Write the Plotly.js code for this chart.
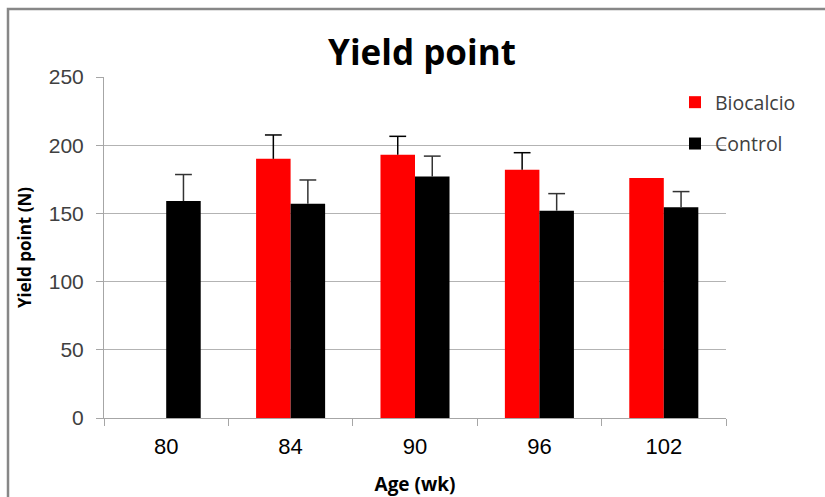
<!DOCTYPE html>
<html>
<head>
<meta charset="utf-8">
<script src="https://cdn.plot.ly/plotly-3.0.1.min.js"></script>
<style>
  html, body { margin: 0; padding: 0; background: #ffffff; }
  #chart { width: 825px; height: 497px; }
</style>
</head>
<body>
<div id="chart"></div>
<script>
// ---- Data ----
const ages = ['80', '84', '90', '96', '102'];
const biocalcio = [null, 190, 193, 182, 176];
const biocalcioErr = [null, 17.5, 13.5, 12.5, null];
const control = [159, 157, 177, 152, 154.5];
const controlErr = [19.5, 17.5, 15, 12.5, 11.5];

const seriesNames = ['Biocalcio', 'Control'];
const chartTitle = 'Yield point';
const xTitle = 'Age (wk)';
const yTitle = 'Yield point (N)';

// upper end of each (one-sided) error bar, from value + error
const topOf = (vals, errs) => vals.map((v, i) => (v === null || errs[i] === null ? null : v + errs[i]));
const nz = arr => arr.map(v => (v === null ? NaN : v));
const zeros = arr => arr.map(() => 0);

function barTrace(name, vals, color, group) {
  return {
    type: 'bar', name: name, x: ages, y: vals,
    offsetgroup: group, legendgroup: group,
    marker: { color: color }
  };
}
// cap marker at the top + stem down to the bar top (one-sided error bar)
function errTrace(vals, errs, color, group) {
  return {
    type: 'scatter', mode: 'markers', x: ages, y: topOf(vals, errs),
    offsetgroup: group, legendgroup: group, showlegend: false,
    marker: { symbol: 'line-ew', size: 12, line: { color: color, width: 1.5 } },
    error_y: { type: 'data', symmetric: false, array: zeros(errs), arrayminus: nz(errs),
               visible: true, color: color, thickness: 1.5, width: 0 }
  };
}

const traces = [
  barTrace(seriesNames[0], biocalcio, '#ff0000', 'a'),
  barTrace(seriesNames[1], control, '#000000', 'b'),
  errTrace(biocalcio, biocalcioErr, '#000000', 'a'),
  errTrace(control, controlErr, '#333333', 'b')
];

const L = 104, R = 726, T = 77, B = 418;
const W = 825, H = 497;
const pw = R - L, ph = B - T;

const layout = {
  width: W,
  height: H,
  margin: { l: L, r: W - R, t: T, b: H - B, pad: 0 },
  paper_bgcolor: '#ffffff',
  plot_bgcolor: '#ffffff',
  barmode: 'group',
  bargap: 0.445,
  bargroupgap: 0,
  scattermode: 'group',
  scattergap: 0.445,
  showlegend: true,
  title: {
    text: chartTitle,
    font: { family: 'Open Sans, sans-serif', size: 35, color: '#000000', weight: 'bold' },
    x: 422 / W,
    xanchor: 'center',
    xref: 'container',
    yref: 'container',
    y: 1 - 53 / H,
    yanchor: 'middle'
  },
  xaxis: {
    type: 'category',
    showgrid: false,
    showline: true,
    linecolor: '#a6a6a6',
    linewidth: 1,
    ticks: 'outside',
    tickson: 'boundaries',
    ticklen: 7,
    tickcolor: '#a6a6a6',
    tickfont: { family: 'Liberation Sans, Arial, sans-serif', size: 22, color: '#000000' },
    ticklabelstandoff: 9,
    title: {
      text: xTitle,
      font: { family: 'Open Sans, sans-serif', size: 19, color: '#000000', weight: 'bold' },
      standoff: 19
    },
    automargin: false,
    zeroline: false
  },
  yaxis: {
    range: [0, 250],
    tickvals: [0, 50, 100, 150, 200, 250],
    showgrid: true,
    gridcolor: '#b3b3b3',
    gridwidth: 1,
    showline: true,
    linecolor: '#a6a6a6',
    linewidth: 1,
    ticks: 'outside',
    ticklen: 7,
    tickcolor: '#a6a6a6',
    tickfont: { family: 'Liberation Sans, Arial, sans-serif', size: 21, color: '#404040' },
    ticklabelstandoff: 8,
    title: {
      text: yTitle,
      font: { family: 'Open Sans, sans-serif', size: 17, color: '#000000', weight: 'bold' },
      standoff: 12
    },
    automargin: false,
    zeroline: false
  },
  legend: {
    x: (675 - L) / pw,
    xanchor: 'left',
    y: 1 - (83 - T) / ph,
    yanchor: 'top',
    bgcolor: 'rgba(0,0,0,0)',
    borderwidth: 0,
    traceorder: 'grouped',
    tracegroupgap: 13,
    font: { family: 'Open Sans, sans-serif', size: 19.5, color: '#404040' }
  },
  shapes: [
    {
      type: 'rect',
      xref: 'paper', yref: 'paper',
      x0: (8 - L) / pw, x1: (900 - L) / pw,
      y0: 1 - (560 - T) / ph, y1: 1 + (T - 9) / ph,
      line: { color: '#878787', width: 2.5 },
      fillcolor: 'rgba(0,0,0,0)',
      layer: 'below'
    }
  ]
};

Plotly.newPlot('chart', traces, layout, { displayModeBar: false, staticPlot: true });
</script>
</body>
</html>
